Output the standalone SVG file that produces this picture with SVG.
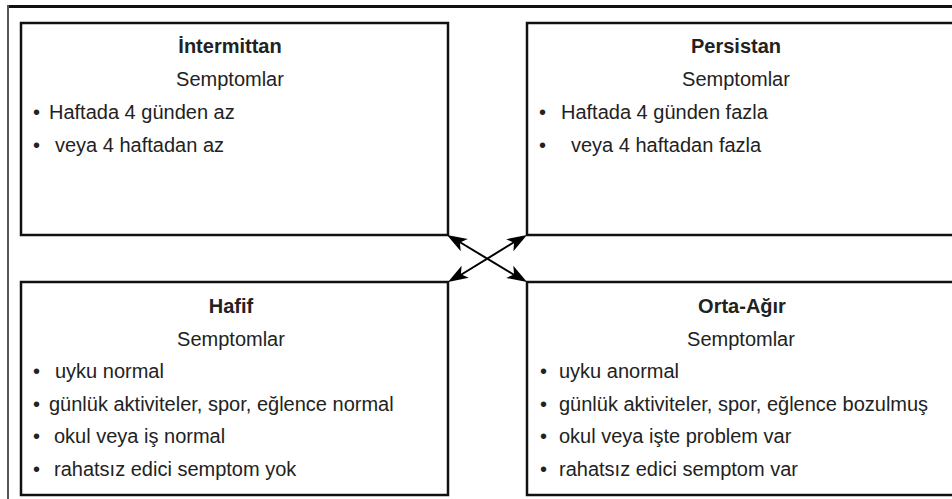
<svg xmlns="http://www.w3.org/2000/svg" width="952" height="499" viewBox="0 0 952 499">
<defs>
<style>
.box{fill:#fff;stroke:#111;stroke-width:2.5}
.t{font-family:"Liberation Sans",Arial,sans-serif;font-size:20px;fill:#222}
.h{font-weight:bold;text-anchor:middle}
.c{text-anchor:middle}
.conn{stroke:#000;stroke-width:2;fill:none}
.head{fill:#000;stroke:none}
</style>
</defs>
<rect width="952" height="499" fill="#fff"/>
<g id="frame">
<line x1="7" y1="6.5" x2="952" y2="6.5" stroke="#111" stroke-width="3"/>
<line x1="8" y1="5" x2="8" y2="499" stroke="#555" stroke-width="2"/>
</g>
<g id="intermittan">
<rect class="box" x="21" y="23" width="427" height="212"/>
<text class="t h" x="230" y="53">İntermittan</text>
<text class="t c" x="230" y="86">Semptomlar</text>
<text class="t" x="33" y="119">•</text><text class="t" x="49" y="119">Haftada 4 günden az</text>
<text class="t" x="33" y="152">•</text><text class="t" x="55" y="152">veya 4 haftadan az</text>
</g>
<g id="persistan">
<rect class="box" x="527" y="23" width="440" height="212"/>
<text class="t h" x="736" y="53">Persistan</text>
<text class="t c" x="736" y="86">Semptomlar</text>
<text class="t" x="539" y="119">•</text><text class="t" x="561" y="119">Haftada 4 günden fazla</text>
<text class="t" x="539" y="152">•</text><text class="t" x="571" y="152">veya 4 haftadan fazla</text>
</g>
<g id="hafif">
<rect class="box" x="21" y="282" width="427" height="213"/>
<text class="t h" x="231" y="313">Hafif</text>
<text class="t c" x="231" y="346">Semptomlar</text>
<text class="t" x="33" y="378">•</text><text class="t" x="55" y="378">uyku normal</text>
<text class="t" x="33" y="411">•</text><text class="t" x="49" y="411">günlük aktiviteler, spor, eğlence normal</text>
<text class="t" x="33" y="443">•</text><text class="t" x="54" y="443">okul veya iş normal</text>
<text class="t" x="33" y="476">•</text><text class="t" x="54" y="476">rahatsız edici semptom yok</text>
</g>
<g id="orta-agir">
<rect class="box" x="527" y="282" width="440" height="213"/>
<text class="t h" x="742" y="313">Orta-Ağır</text>
<text class="t c" x="741" y="346">Semptomlar</text>
<text class="t" x="540" y="378">•</text><text class="t" x="559" y="378">uyku anormal</text>
<text class="t" x="540" y="411">•</text><text class="t" x="559" y="411">günlük aktiviteler, spor, eğlence bozulmuş</text>
<text class="t" x="540" y="443">•</text><text class="t" x="559" y="443">okul veya işte problem var</text>
<text class="t" x="540" y="476">•</text><text class="t" x="559" y="476">rahatsız edici semptom var</text>
</g>
<g id="connectors">
<line class="conn" x1="458" y1="241" x2="516" y2="276"/>
<line class="conn" x1="516" y1="241" x2="459" y2="276"/>
<path class="head" d="M527,282 L506.2,277.9 L514.1,274.4 L513.3,265.8 Z"/>
<path class="head" d="M447,235 L460.7,251.2 L459.9,242.6 L467.8,239.1 Z"/>
<path class="head" d="M448,282 L461.6,265.8 L460.9,274.3 L468.8,277.8 Z"/>
<path class="head" d="M527,235 L506.2,239.2 L514.1,242.7 L513.4,251.2 Z"/>
</g>
</svg>
